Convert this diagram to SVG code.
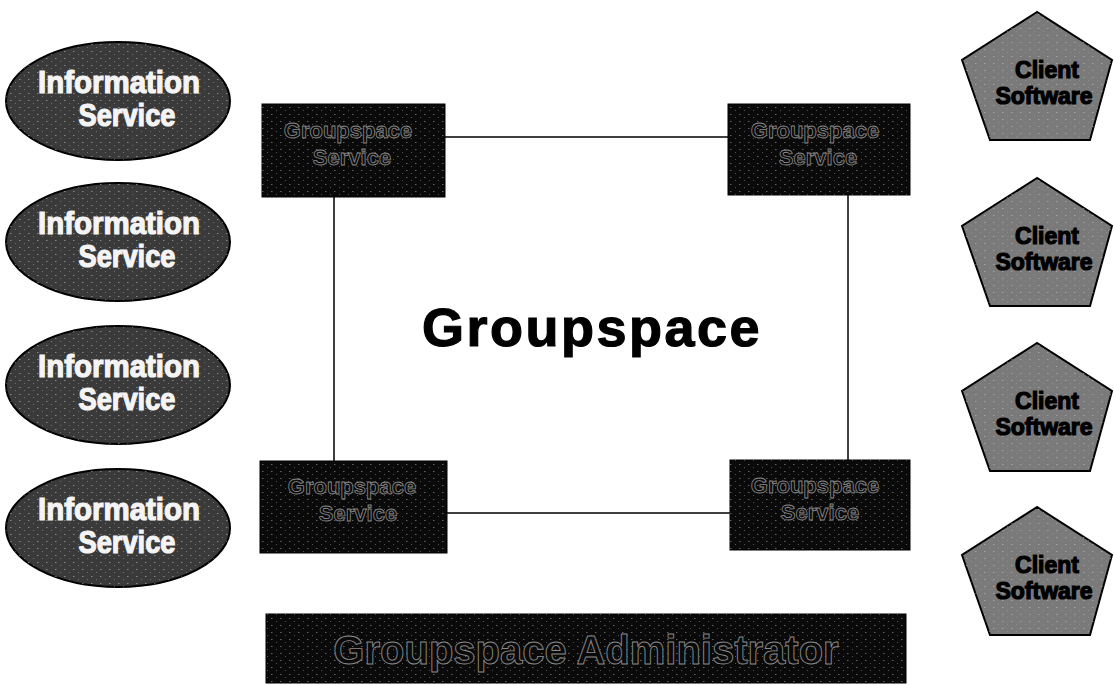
<svg xmlns="http://www.w3.org/2000/svg" width="1114" height="685" viewBox="0 0 1114 685">
  <style>
    .ell { fill: #3a3a3a; stroke: #000; stroke-width: 2; }
    .ellt { font-family: "Liberation Sans", Arial, sans-serif; font-weight: bold; font-size: 31px; fill: #f4f4f4; stroke: #f4f4f4; stroke-width: 1.2; text-anchor: middle; }
    .pent { fill: #7a7a7a; stroke: #000; stroke-width: 2; }
    .pentt { font-family: "Liberation Sans", Arial, sans-serif; font-weight: bold; font-size: 23px; fill: #000; stroke: #000; stroke-width: 1.2; text-anchor: middle; }
    .halo { font-family: "Liberation Sans", Arial, sans-serif; font-weight: bold; font-size: 23px; }
    .box { fill: #0a0a0a; stroke: #000; stroke-width: 1; }
    .boxt { font-family: "Liberation Sans", Arial, sans-serif; font-weight: bold; font-size: 22px; fill: #0a0a0a; stroke: #8a8a8a; stroke-width: 0.8; text-anchor: middle; }
    .main { fill: #fff; stroke: #000; stroke-width: 1.5; }
    .mainT { font-family: "Liberation Sans", Arial, sans-serif; font-weight: bold; font-size: 54px; fill: #000; stroke: #000; stroke-width: 1.2; text-anchor: middle; letter-spacing: 2.5px; }
    .admt { font-family: "Liberation Sans", Arial, sans-serif; font-weight: bold; font-size: 40px; fill: #0a0a0a; stroke: #8a8a8a; stroke-width: 0.9; text-anchor: middle; }
  </style>
  <defs>
    <pattern id="speck" width="9" height="7" patternUnits="userSpaceOnUse">
      <rect x="1" y="2" width="1.5" height="1" fill="#bbb"/>
      <rect x="6" y="5" width="1" height="1" fill="#999"/>
    </pattern>
    <polygon id="pentShape" points="0,0 -75,48 -47,128 53,128 75,48"/>
  </defs>
  <rect width="1114" height="685" fill="#fff"/>

  <g id="groupspace">
    <rect class="main" x="334" y="137" width="514" height="376"/>
    <text class="mainT" x="592" y="346">Groupspace</text>
  </g>

  <g id="connectors"></g>

  <g id="service-tl">
    <rect class="box" x="262" y="104" width="183" height="93"/>
    <rect x="262" y="104" width="183" height="93" fill="url(#speck)" opacity="0.5"/>
    <text class="boxt" x="348" y="138">Groupspace</text>
    <text class="boxt" x="352" y="165">Service</text>
  </g>
  <g id="service-tr">
    <rect class="box" x="728" y="104" width="182" height="91"/>
    <rect x="728" y="104" width="182" height="91" fill="url(#speck)" opacity="0.5"/>
    <text class="boxt" x="815" y="138">Groupspace</text>
    <text class="boxt" x="818" y="165">Service</text>
  </g>
  <g id="service-bl">
    <rect class="box" x="260" y="461" width="187" height="92"/>
    <rect x="260" y="461" width="187" height="92" fill="url(#speck)" opacity="0.5"/>
    <text class="boxt" x="352" y="494">Groupspace</text>
    <text class="boxt" x="358" y="521">Service</text>
  </g>
  <g id="service-br">
    <rect class="box" x="730" y="460" width="180" height="90"/>
    <rect x="730" y="460" width="180" height="90" fill="url(#speck)" opacity="0.5"/>
    <text class="boxt" x="815" y="493">Groupspace</text>
    <text class="boxt" x="820" y="520">Service</text>
  </g>

  <g id="info-1">
    <ellipse class="ell" cx="118" cy="101" rx="112" ry="59"/>
    <ellipse cx="118" cy="101" rx="112" ry="59" fill="url(#speck)" opacity="0.6"/>
    <text class="ellt" x="119" y="93" textLength="162" lengthAdjust="spacingAndGlyphs">Information</text>
    <text class="ellt" x="127" y="126" textLength="97" lengthAdjust="spacingAndGlyphs">Service</text>
  </g>
  <g id="info-2">
    <ellipse class="ell" cx="118" cy="242" rx="112" ry="59"/>
    <ellipse cx="118" cy="242" rx="112" ry="59" fill="url(#speck)" opacity="0.6"/>
    <text class="ellt" x="119" y="234" textLength="162" lengthAdjust="spacingAndGlyphs">Information</text>
    <text class="ellt" x="127" y="267" textLength="97" lengthAdjust="spacingAndGlyphs">Service</text>
  </g>
  <g id="info-3">
    <ellipse class="ell" cx="118" cy="385" rx="112" ry="59"/>
    <ellipse cx="118" cy="385" rx="112" ry="59" fill="url(#speck)" opacity="0.6"/>
    <text class="ellt" x="119" y="377" textLength="162" lengthAdjust="spacingAndGlyphs">Information</text>
    <text class="ellt" x="127" y="410" textLength="97" lengthAdjust="spacingAndGlyphs">Service</text>
  </g>
  <g id="info-4">
    <ellipse class="ell" cx="118" cy="528" rx="112" ry="59"/>
    <ellipse cx="118" cy="528" rx="112" ry="59" fill="url(#speck)" opacity="0.6"/>
    <text class="ellt" x="119" y="520" textLength="162" lengthAdjust="spacingAndGlyphs">Information</text>
    <text class="ellt" x="127" y="553" textLength="97" lengthAdjust="spacingAndGlyphs">Service</text>
  </g>

  <g id="client-1" transform="translate(1037,12)">
    <use href="#pentShape" class="pent"/>
    <use href="#pentShape" fill="url(#speck)" opacity="0.6"/>
    <text class="pentt" x="10" y="66">Client</text>
    <text class="pentt" x="7" y="92">Software</text>
  </g>
  <g id="client-2" transform="translate(1037,178)">
    <use href="#pentShape" class="pent"/>
    <use href="#pentShape" fill="url(#speck)" opacity="0.6"/>
    <text class="pentt" x="10" y="66">Client</text>
    <text class="pentt" x="7" y="92">Software</text>
  </g>
  <g id="client-3" transform="translate(1037,343)">
    <use href="#pentShape" class="pent"/>
    <use href="#pentShape" fill="url(#speck)" opacity="0.6"/>
    <text class="pentt" x="10" y="66">Client</text>
    <text class="pentt" x="7" y="92">Software</text>
  </g>
  <g id="client-4" transform="translate(1037,507)">
    <use href="#pentShape" class="pent"/>
    <use href="#pentShape" fill="url(#speck)" opacity="0.6"/>
    <text class="pentt" x="10" y="66">Client</text>
    <text class="pentt" x="7" y="92">Software</text>
  </g>

  <g id="administrator">
    <rect class="box" x="266" y="614" width="640" height="69"/>
    <rect x="266" y="614" width="640" height="69" fill="url(#speck)" opacity="0.5"/>
    <text class="admt" x="586" y="664">Groupspace Administrator</text>
  </g>
</svg>
